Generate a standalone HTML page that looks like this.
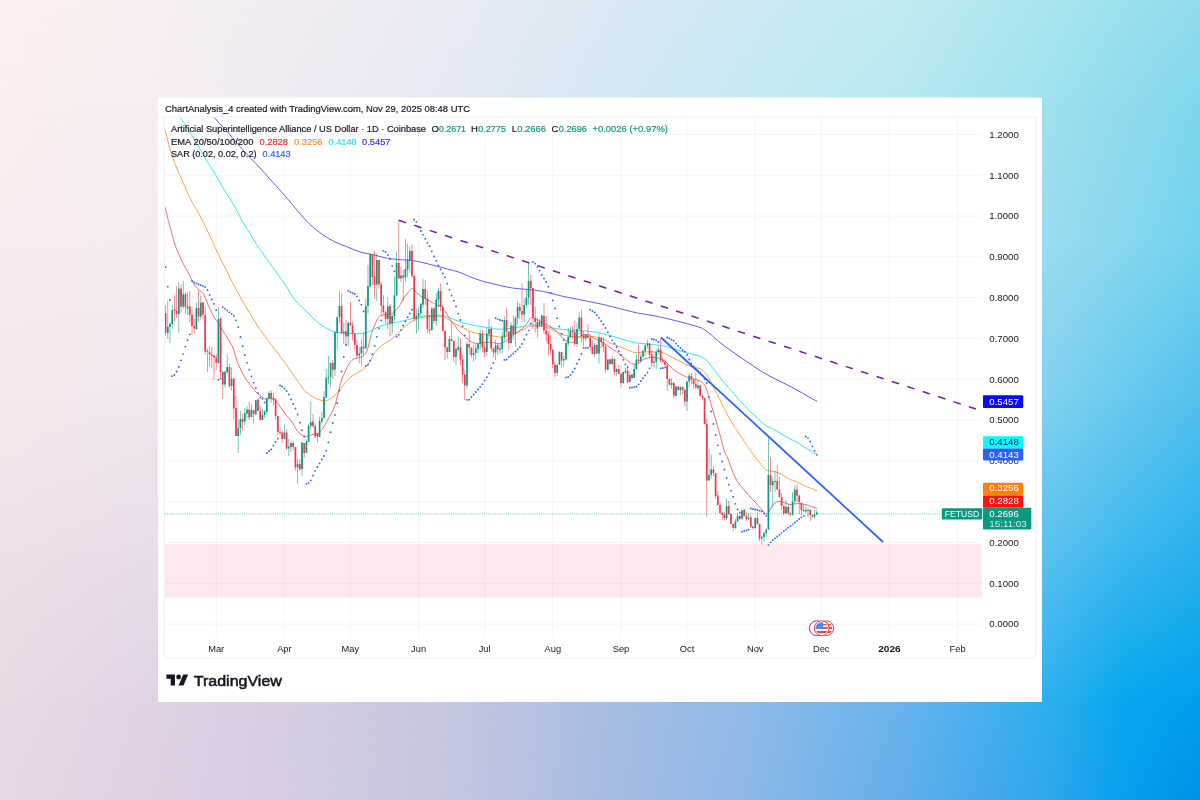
<!DOCTYPE html>
<html><head><meta charset="utf-8"><title>chart</title>
<style>
html,body{margin:0;padding:0;width:1200px;height:800px;overflow:hidden;background:#e9e3ee;}
svg{position:absolute;left:0;top:0;display:block}
text{font-family:"Liberation Sans",sans-serif;}
</style></head><body>
<svg width="1200" height="800" viewBox="0 0 1200 800">
<defs>
<linearGradient id="h0" x1="0" y1="0" x2="1200" y2="0" gradientUnits="userSpaceOnUse"><stop offset="0.0000" stop-color="#fdf1ef"/><stop offset="0.1250" stop-color="#f7f0f1"/><stop offset="0.2500" stop-color="#f1ecf2"/><stop offset="0.3750" stop-color="#e8eaf3"/><stop offset="0.5000" stop-color="#dbe9f3"/><stop offset="0.6250" stop-color="#cdeaf3"/><stop offset="0.7500" stop-color="#c0ebf2"/><stop offset="0.8750" stop-color="#a9e5ef"/><stop offset="0.9375" stop-color="#9ce1ee"/><stop offset="1.0000" stop-color="#90dded"/></linearGradient>
<linearGradient id="h100" x1="0" y1="0" x2="1200" y2="0" gradientUnits="userSpaceOnUse"><stop offset="0.0000" stop-color="#fbefee"/><stop offset="0.1250" stop-color="#f6eef1"/><stop offset="0.2500" stop-color="#eeeaf2"/><stop offset="0.3750" stop-color="#e4e8f3"/><stop offset="0.5000" stop-color="#d5e8f3"/><stop offset="0.6250" stop-color="#c6e9f3"/><stop offset="0.7500" stop-color="#b6e8f1"/><stop offset="0.8750" stop-color="#9fe1ee"/><stop offset="0.9375" stop-color="#8fdced"/><stop offset="1.0000" stop-color="#7fd7ec"/></linearGradient>
<linearGradient id="h250" x1="0" y1="0" x2="1200" y2="0" gradientUnits="userSpaceOnUse"><stop offset="0.0000" stop-color="#f8ebee"/><stop offset="0.1250" stop-color="#f4ebf0"/><stop offset="0.2500" stop-color="#e8e2ee"/><stop offset="0.3750" stop-color="#dce0ee"/><stop offset="0.5000" stop-color="#cadeef"/><stop offset="0.6250" stop-color="#b8def0"/><stop offset="0.7500" stop-color="#a2dbf0"/><stop offset="0.8750" stop-color="#97dbef"/><stop offset="0.9375" stop-color="#85d7ee"/><stop offset="1.0000" stop-color="#73d2ee"/></linearGradient>
<linearGradient id="h400" x1="0" y1="0" x2="1200" y2="0" gradientUnits="userSpaceOnUse"><stop offset="0.0000" stop-color="#f4e7ec"/><stop offset="0.1250" stop-color="#f0e6ee"/><stop offset="0.2500" stop-color="#e2dbea"/><stop offset="0.3750" stop-color="#d4d8ea"/><stop offset="0.5000" stop-color="#bfd3eb"/><stop offset="0.6250" stop-color="#aad2ee"/><stop offset="0.7500" stop-color="#8fcef0"/><stop offset="0.8750" stop-color="#7fd1ef"/><stop offset="0.9375" stop-color="#68c9ee"/><stop offset="1.0000" stop-color="#51c0ee"/></linearGradient>
<linearGradient id="h550" x1="0" y1="0" x2="1200" y2="0" gradientUnits="userSpaceOnUse"><stop offset="0.0000" stop-color="#eee0e8"/><stop offset="0.1250" stop-color="#e9ddea"/><stop offset="0.2500" stop-color="#dbd4e6"/><stop offset="0.3750" stop-color="#cdcfe6"/><stop offset="0.5000" stop-color="#b4c8e7"/><stop offset="0.6250" stop-color="#9dc6eb"/><stop offset="0.7500" stop-color="#7cc1ef"/><stop offset="0.8750" stop-color="#59c1ee"/><stop offset="0.9375" stop-color="#3db8ee"/><stop offset="1.0000" stop-color="#28b1ed"/></linearGradient>
<linearGradient id="h700" x1="0" y1="0" x2="1200" y2="0" gradientUnits="userSpaceOnUse"><stop offset="0.0000" stop-color="#e9dae5"/><stop offset="0.1250" stop-color="#e0d3e5"/><stop offset="0.2500" stop-color="#d5cce2"/><stop offset="0.3750" stop-color="#c5c7e1"/><stop offset="0.5000" stop-color="#a9bee3"/><stop offset="0.6250" stop-color="#8fbbe8"/><stop offset="0.7500" stop-color="#68b4ee"/><stop offset="0.8750" stop-color="#2cafef"/><stop offset="0.9375" stop-color="#06a7ee"/><stop offset="1.0000" stop-color="#00a0ec"/></linearGradient>
<linearGradient id="h800" x1="0" y1="0" x2="1200" y2="0" gradientUnits="userSpaceOnUse"><stop offset="0.0000" stop-color="#e7d7e4"/><stop offset="0.1250" stop-color="#dfd0e3"/><stop offset="0.2500" stop-color="#d4cbe2"/><stop offset="0.3750" stop-color="#c4c6e1"/><stop offset="0.5000" stop-color="#a8bce2"/><stop offset="0.6250" stop-color="#8cb8e7"/><stop offset="0.7500" stop-color="#62aeea"/><stop offset="0.8750" stop-color="#2ea6ec"/><stop offset="0.9375" stop-color="#079fec"/><stop offset="1.0000" stop-color="#0091e9"/></linearGradient>
<linearGradient id="v0" x1="0" y1="0" x2="0" y2="100" gradientUnits="userSpaceOnUse"><stop offset="0" stop-color="#fff" stop-opacity="0"/><stop offset="1" stop-color="#fff" stop-opacity="1"/></linearGradient>
<mask id="m0" maskUnits="userSpaceOnUse" x="0" y="0" width="1200" height="100"><rect x="0" y="0" width="1200" height="100" fill="url(#v0)"/></mask>
<linearGradient id="v100" x1="0" y1="100" x2="0" y2="250" gradientUnits="userSpaceOnUse"><stop offset="0" stop-color="#fff" stop-opacity="0"/><stop offset="1" stop-color="#fff" stop-opacity="1"/></linearGradient>
<mask id="m100" maskUnits="userSpaceOnUse" x="0" y="100" width="1200" height="150"><rect x="0" y="100" width="1200" height="150" fill="url(#v100)"/></mask>
<linearGradient id="v250" x1="0" y1="250" x2="0" y2="400" gradientUnits="userSpaceOnUse"><stop offset="0" stop-color="#fff" stop-opacity="0"/><stop offset="1" stop-color="#fff" stop-opacity="1"/></linearGradient>
<mask id="m250" maskUnits="userSpaceOnUse" x="0" y="250" width="1200" height="150"><rect x="0" y="250" width="1200" height="150" fill="url(#v250)"/></mask>
<linearGradient id="v400" x1="0" y1="400" x2="0" y2="550" gradientUnits="userSpaceOnUse"><stop offset="0" stop-color="#fff" stop-opacity="0"/><stop offset="1" stop-color="#fff" stop-opacity="1"/></linearGradient>
<mask id="m400" maskUnits="userSpaceOnUse" x="0" y="400" width="1200" height="150"><rect x="0" y="400" width="1200" height="150" fill="url(#v400)"/></mask>
<linearGradient id="v550" x1="0" y1="550" x2="0" y2="700" gradientUnits="userSpaceOnUse"><stop offset="0" stop-color="#fff" stop-opacity="0"/><stop offset="1" stop-color="#fff" stop-opacity="1"/></linearGradient>
<mask id="m550" maskUnits="userSpaceOnUse" x="0" y="550" width="1200" height="150"><rect x="0" y="550" width="1200" height="150" fill="url(#v550)"/></mask>
<linearGradient id="v700" x1="0" y1="700" x2="0" y2="800" gradientUnits="userSpaceOnUse"><stop offset="0" stop-color="#fff" stop-opacity="0"/><stop offset="1" stop-color="#fff" stop-opacity="1"/></linearGradient>
<mask id="m700" maskUnits="userSpaceOnUse" x="0" y="700" width="1200" height="100"><rect x="0" y="700" width="1200" height="100" fill="url(#v700)"/></mask>
<clipPath id="plot"><rect x="165" y="117.5" width="817" height="520"/></clipPath>
<clipPath id="flag"><circle cx="0" cy="0" r="6.0"/></clipPath>
</defs>
<rect x="0" y="0" width="1200" height="100.5" fill="url(#h0)"/>
<rect x="0" y="0" width="1200" height="100" fill="url(#h100)" mask="url(#m0)"/>
<rect x="0" y="100" width="1200" height="150.5" fill="url(#h100)"/>
<rect x="0" y="100" width="1200" height="150" fill="url(#h250)" mask="url(#m100)"/>
<rect x="0" y="250" width="1200" height="150.5" fill="url(#h250)"/>
<rect x="0" y="250" width="1200" height="150" fill="url(#h400)" mask="url(#m250)"/>
<rect x="0" y="400" width="1200" height="150.5" fill="url(#h400)"/>
<rect x="0" y="400" width="1200" height="150" fill="url(#h550)" mask="url(#m400)"/>
<rect x="0" y="550" width="1200" height="150.5" fill="url(#h550)"/>
<rect x="0" y="550" width="1200" height="150" fill="url(#h700)" mask="url(#m550)"/>
<rect x="0" y="700" width="1200" height="100.5" fill="url(#h700)"/>
<rect x="0" y="700" width="1200" height="100" fill="url(#h800)" mask="url(#m700)"/>
<rect x="158" y="97.5" width="884" height="604.5" fill="#ffffff"/>

<rect x="164.5" y="117" width="871" height="541.2" fill="none" stroke="#f0f0f2" stroke-width="1"/>
<path d="M165,624.00H982 M165,583.20H982 M165,542.40H982 M165,501.60H982 M165,460.80H982 M165,420.00H982 M165,379.20H982 M165,338.40H982 M165,297.60H982 M165,256.80H982 M165,216.00H982 M165,175.20H982 M165,134.40H982 M216.20,117.5V637.3 M284.40,117.5V637.3 M350.40,117.5V637.3 M418.60,117.5V637.3 M484.60,117.5V637.3 M552.80,117.5V637.3 M621.00,117.5V637.3 M687.00,117.5V637.3 M755.20,117.5V637.3 M821.20,117.5V637.3 M889.40,117.5V637.3 M957.60,117.5V637.3" stroke="#f4f4f6" stroke-width="1" fill="none"/>
<rect x="165" y="544" width="817" height="53.5" fill="#e91e63" fill-opacity="0.10"/>
<g clip-path="url(#plot)">
<path d="M213.75,117.00 C216.04,119.50 222.71,126.58 227.50,132.00 C232.29,137.42 237.08,143.50 242.50,149.50 C247.92,155.50 255.00,162.58 260.00,168.00 C265.00,173.42 268.33,177.38 272.50,182.00 C276.67,186.62 280.83,190.96 285.00,195.75 C289.17,200.54 293.33,205.96 297.50,210.75 C301.67,215.54 305.83,220.54 310.00,224.50 C314.17,228.46 318.33,231.58 322.50,234.50 C326.67,237.42 330.83,239.92 335.00,242.00 C339.17,244.08 343.33,245.33 347.50,247.00 C351.67,248.67 355.83,250.75 360.00,252.00 C364.17,253.25 368.33,253.54 372.50,254.50 C376.67,255.46 380.83,256.92 385.00,257.75 C389.17,258.58 393.33,259.08 397.50,259.50 C401.67,259.92 405.83,259.75 410.00,260.25 C414.17,260.75 418.33,261.58 422.50,262.50 C426.67,263.42 430.83,264.67 435.00,265.75 C439.17,266.83 443.33,267.88 447.50,269.00 C451.67,270.12 455.42,270.88 460.00,272.50 C464.58,274.12 470.42,277.08 475.00,278.75 C479.58,280.42 483.33,281.38 487.50,282.50 C491.67,283.62 495.83,284.58 500.00,285.50 C504.17,286.42 508.33,287.38 512.50,288.00 C516.67,288.62 520.83,288.83 525.00,289.25 C529.17,289.67 533.33,289.88 537.50,290.50 C541.67,291.12 545.83,292.04 550.00,293.00 C554.17,293.96 558.33,295.29 562.50,296.25 C566.67,297.21 570.83,297.92 575.00,298.75 C579.17,299.58 583.33,300.42 587.50,301.25 C591.67,302.08 595.83,302.83 600.00,303.75 C604.17,304.67 608.33,305.71 612.50,306.75 C616.67,307.79 620.83,308.96 625.00,310.00 C629.17,311.04 633.33,312.17 637.50,313.00 C641.67,313.83 645.83,314.25 650.00,315.00 C654.17,315.75 658.33,316.58 662.50,317.50 C666.67,318.42 670.83,319.46 675.00,320.50 C679.17,321.54 683.33,322.58 687.50,323.75 C691.67,324.92 697.25,326.54 700.00,327.50 C702.75,328.46 702.33,328.46 704.00,329.50 C705.67,330.54 707.33,331.58 710.00,333.75 C712.67,335.92 716.67,339.79 720.00,342.50 C723.33,345.21 726.67,347.58 730.00,350.00 C733.33,352.42 736.67,354.71 740.00,357.00 C743.33,359.29 746.67,361.50 750.00,363.75 C753.33,366.00 756.67,368.42 760.00,370.50 C763.33,372.58 766.67,374.46 770.00,376.25 C773.33,378.04 776.67,379.58 780.00,381.25 C783.33,382.92 786.67,384.50 790.00,386.25 C793.33,388.00 796.67,389.88 800.00,391.75 C803.33,393.62 807.17,395.92 810.00,397.50 C812.83,399.08 815.83,400.62 817.00,401.25" fill="none" stroke="#5b51f5" stroke-width="0.95"/>
<path d="M180.00,117.00 C180.83,118.25 183.12,121.58 185.00,124.50 C186.88,127.42 189.17,131.17 191.25,134.50 C193.33,137.83 195.42,140.96 197.50,144.50 C199.58,148.04 201.67,152.21 203.75,155.75 C205.83,159.29 207.92,162.42 210.00,165.75 C212.08,169.08 214.17,172.21 216.25,175.75 C218.33,179.29 220.42,183.46 222.50,187.00 C224.58,190.54 226.67,193.67 228.75,197.00 C230.83,200.33 233.12,203.67 235.00,207.00 C236.88,210.33 237.92,213.25 240.00,217.00 C242.08,220.75 244.17,224.08 247.50,229.50 C250.83,234.92 255.83,243.25 260.00,249.50 C264.17,255.75 268.33,261.17 272.50,267.00 C276.67,272.83 281.25,279.00 285.00,284.50 C288.75,290.00 291.67,295.75 295.00,300.00 C298.33,304.25 301.67,306.67 305.00,310.00 C308.33,313.33 311.67,317.08 315.00,320.00 C318.33,322.92 321.67,325.50 325.00,327.50 C328.33,329.50 331.25,331.04 335.00,332.00 C338.75,332.96 343.33,332.96 347.50,333.25 C351.67,333.54 356.25,334.08 360.00,333.75 C363.75,333.42 366.67,332.50 370.00,331.25 C373.33,330.00 376.25,327.62 380.00,326.25 C383.75,324.88 388.33,323.96 392.50,323.00 C396.67,322.04 400.83,321.50 405.00,320.50 C409.17,319.50 413.33,317.83 417.50,317.00 C421.67,316.17 425.83,315.75 430.00,315.50 C434.17,315.25 439.17,315.08 442.50,315.50 C445.83,315.92 446.67,316.83 450.00,318.00 C453.33,319.17 458.33,321.25 462.50,322.50 C466.67,323.75 470.83,324.67 475.00,325.50 C479.17,326.33 483.33,326.88 487.50,327.50 C491.67,328.12 495.83,329.17 500.00,329.25 C504.17,329.33 508.33,328.50 512.50,328.00 C516.67,327.50 522.08,326.75 525.00,326.25 C527.92,325.75 527.50,325.12 530.00,325.00 C532.50,324.88 536.67,325.08 540.00,325.50 C543.33,325.92 546.25,326.83 550.00,327.50 C553.75,328.17 558.33,329.00 562.50,329.50 C566.67,330.00 570.83,330.21 575.00,330.50 C579.17,330.79 583.33,330.83 587.50,331.25 C591.67,331.67 595.83,332.17 600.00,333.00 C604.17,333.83 608.33,335.08 612.50,336.25 C616.67,337.42 620.83,338.88 625.00,340.00 C629.17,341.12 633.33,342.29 637.50,343.00 C641.67,343.71 645.42,343.71 650.00,344.25 C654.58,344.79 660.42,345.29 665.00,346.25 C669.58,347.21 673.33,348.75 677.50,350.00 C681.67,351.25 686.25,352.71 690.00,353.75 C693.75,354.79 697.08,355.00 700.00,356.25 C702.92,357.50 705.00,358.75 707.50,361.25 C710.00,363.75 712.08,367.50 715.00,371.25 C717.92,375.00 721.67,379.79 725.00,383.75 C728.33,387.71 731.67,391.25 735.00,395.00 C738.33,398.75 741.67,402.79 745.00,406.25 C748.33,409.71 751.67,412.62 755.00,415.75 C758.33,418.88 761.67,422.62 765.00,425.00 C768.33,427.38 771.67,428.12 775.00,430.00 C778.33,431.88 781.67,434.38 785.00,436.25 C788.33,438.12 791.67,439.38 795.00,441.25 C798.33,443.12 801.33,445.29 805.00,447.50 C808.67,449.71 815.00,453.33 817.00,454.50" fill="none" stroke="#2aeaf8" stroke-width="1.0"/>
<path d="M165.00,129.50 C165.62,132.00 167.50,139.92 168.75,144.50 C170.00,149.08 171.25,153.25 172.50,157.00 C173.75,160.75 175.00,163.88 176.25,167.00 C177.50,170.12 178.54,172.42 180.00,175.75 C181.46,179.08 183.33,183.25 185.00,187.00 C186.67,190.75 188.33,194.92 190.00,198.25 C191.67,201.58 193.33,204.08 195.00,207.00 C196.67,209.92 197.83,211.58 200.00,215.75 C202.17,219.92 205.08,225.88 208.00,232.00 C210.92,238.12 214.67,246.58 217.50,252.50 C220.33,258.42 222.50,262.50 225.00,267.50 C227.50,272.50 230.00,277.67 232.50,282.50 C235.00,287.33 237.08,291.33 240.00,296.50 C242.92,301.67 246.67,308.00 250.00,313.50 C253.33,319.00 256.67,324.58 260.00,329.50 C263.33,334.42 266.67,338.54 270.00,343.00 C273.33,347.46 276.67,351.75 280.00,356.25 C283.33,360.75 286.67,365.29 290.00,370.00 C293.33,374.71 297.33,380.83 300.00,384.50 C302.67,388.17 303.83,389.92 306.00,392.00 C308.17,394.08 310.67,395.67 313.00,397.00 C315.33,398.33 317.58,399.45 320.00,400.00 C322.42,400.55 325.00,401.13 327.50,400.30 C330.00,399.47 332.50,397.34 335.00,395.00 C337.50,392.66 340.00,389.17 342.50,386.25 C345.00,383.33 347.08,380.00 350.00,377.50 C352.92,375.00 357.08,373.33 360.00,371.25 C362.92,369.17 365.00,368.12 367.50,365.00 C370.00,361.88 372.50,355.83 375.00,352.50 C377.50,349.17 379.58,347.29 382.50,345.00 C385.42,342.71 389.58,341.04 392.50,338.75 C395.42,336.46 397.50,333.62 400.00,331.25 C402.50,328.88 405.00,326.46 407.50,324.50 C410.00,322.54 412.08,320.75 415.00,319.50 C417.92,318.25 421.25,317.54 425.00,317.00 C428.75,316.46 434.17,316.17 437.50,316.25 C440.83,316.33 442.08,316.25 445.00,317.50 C447.92,318.75 451.67,321.88 455.00,323.75 C458.33,325.62 461.67,327.21 465.00,328.75 C468.33,330.29 471.25,331.96 475.00,333.00 C478.75,334.04 483.33,334.33 487.50,335.00 C491.67,335.67 496.67,336.79 500.00,337.00 C503.33,337.21 504.58,337.00 507.50,336.25 C510.42,335.50 514.58,333.75 517.50,332.50 C520.42,331.25 522.92,329.79 525.00,328.75 C527.08,327.71 527.50,326.67 530.00,326.25 C532.50,325.83 536.67,325.83 540.00,326.25 C543.33,326.67 546.25,327.38 550.00,328.75 C553.75,330.12 558.33,333.12 562.50,334.50 C566.67,335.88 570.83,336.71 575.00,337.00 C579.17,337.29 583.33,336.08 587.50,336.25 C591.67,336.42 595.83,336.75 600.00,338.00 C604.17,339.25 608.33,341.96 612.50,343.75 C616.67,345.54 621.25,347.29 625.00,348.75 C628.75,350.21 631.67,352.00 635.00,352.50 C638.33,353.00 641.67,351.83 645.00,351.75 C648.33,351.67 652.50,352.04 655.00,352.00 C657.50,351.96 657.50,350.79 660.00,351.50 C662.50,352.21 666.67,354.62 670.00,356.25 C673.33,357.88 676.67,359.58 680.00,361.25 C683.33,362.92 686.67,365.00 690.00,366.25 C693.33,367.50 697.50,367.71 700.00,368.75 C702.50,369.79 703.33,370.62 705.00,372.50 C706.67,374.38 708.33,377.08 710.00,380.00 C711.67,382.92 713.33,386.67 715.00,390.00 C716.67,393.33 717.92,395.83 720.00,400.00 C722.08,404.17 725.00,410.42 727.50,415.00 C730.00,419.58 732.50,423.54 735.00,427.50 C737.50,431.46 740.00,435.00 742.50,438.75 C745.00,442.50 747.92,446.96 750.00,450.00 C752.08,453.04 753.33,454.83 755.00,457.00 C756.67,459.17 758.33,461.00 760.00,463.00 C761.67,465.00 763.50,467.67 765.00,469.00 C766.50,470.33 767.50,470.58 769.00,471.00 C770.50,471.42 772.17,471.08 774.00,471.50 C775.83,471.92 778.17,472.67 780.00,473.50 C781.83,474.33 783.33,475.50 785.00,476.50 C786.67,477.50 788.33,478.75 790.00,479.50 C791.67,480.25 793.33,480.33 795.00,481.00 C796.67,481.67 798.33,482.67 800.00,483.50 C801.67,484.33 803.33,485.25 805.00,486.00 C806.67,486.75 808.00,487.17 810.00,488.00 C812.00,488.83 815.83,490.50 817.00,491.00" fill="none" stroke="#ff9a3c" stroke-width="0.95"/>
<path d="M165.00,207.00 C165.83,210.33 168.33,220.75 170.00,227.00 C171.67,233.25 173.33,239.50 175.00,244.50 C176.67,249.50 178.33,253.25 180.00,257.00 C181.67,260.75 183.85,264.83 185.00,267.00 C186.15,269.17 185.86,268.04 186.90,270.00 C187.94,271.96 189.69,275.83 191.25,278.75 C192.81,281.67 194.38,285.21 196.25,287.50 C198.12,289.79 201.01,290.82 202.50,292.50 C203.99,294.18 204.18,295.35 205.20,297.60 C206.22,299.85 207.48,303.48 208.60,306.00 C209.72,308.52 210.78,310.47 211.90,312.70 C213.02,314.93 214.32,317.87 215.30,319.40 C216.28,320.93 216.97,320.65 217.80,321.90 C218.63,323.15 219.32,325.22 220.30,326.90 C221.28,328.58 222.50,330.15 223.70,332.00 C224.90,333.85 226.03,335.58 227.50,338.00 C228.97,340.42 231.25,343.83 232.50,346.50 C233.75,349.17 234.25,351.58 235.00,354.00 C235.75,356.42 236.17,358.67 237.00,361.00 C237.83,363.33 238.83,365.50 240.00,368.00 C241.17,370.50 242.67,373.67 244.00,376.00 C245.33,378.33 246.67,380.17 248.00,382.00 C249.33,383.83 250.67,385.33 252.00,387.00 C253.33,388.67 254.50,390.50 256.00,392.00 C257.50,393.50 259.50,394.83 261.00,396.00 C262.50,397.17 263.50,398.58 265.00,399.00 C266.50,399.42 268.33,398.33 270.00,398.50 C271.67,398.67 273.50,398.92 275.00,400.00 C276.50,401.08 277.67,403.17 279.00,405.00 C280.33,406.83 281.67,409.17 283.00,411.00 C284.33,412.83 285.50,414.17 287.00,416.00 C288.50,417.83 290.50,419.83 292.00,422.00 C293.50,424.17 294.67,427.00 296.00,429.00 C297.33,431.00 298.67,432.83 300.00,434.00 C301.33,435.17 302.83,435.50 304.00,436.00 C305.17,436.50 305.83,437.17 307.00,437.00 C308.17,436.83 309.67,435.50 311.00,435.00 C312.33,434.50 313.67,434.33 315.00,434.00 C316.33,433.67 317.67,434.00 319.00,433.00 C320.33,432.00 321.67,430.00 323.00,428.00 C324.33,426.00 325.67,423.33 327.00,421.00 C328.33,418.67 329.83,416.17 331.00,414.00 C332.17,411.83 333.00,410.67 334.00,408.00 C335.00,405.33 336.17,401.00 337.00,398.00 C337.83,395.00 338.25,393.00 339.00,390.00 C339.75,387.00 340.50,383.00 341.50,380.00 C342.50,377.00 343.75,374.67 345.00,372.00 C346.25,369.33 347.67,366.08 349.00,364.00 C350.33,361.92 351.67,360.50 353.00,359.50 C354.33,358.50 355.67,358.42 357.00,358.00 C358.33,357.58 359.83,357.42 361.00,357.00 C362.17,356.58 363.00,356.50 364.00,355.50 C365.00,354.50 366.17,352.92 367.00,351.00 C367.83,349.08 368.33,346.67 369.00,344.00 C369.67,341.33 370.17,337.83 371.00,335.00 C371.83,332.17 373.00,329.50 374.00,327.00 C375.00,324.50 376.00,321.83 377.00,320.00 C378.00,318.17 378.83,316.83 380.00,316.00 C381.17,315.17 382.67,315.25 384.00,315.00 C385.33,314.75 386.67,314.67 388.00,314.50 C389.33,314.33 390.67,314.75 392.00,314.00 C393.33,313.25 394.67,311.50 396.00,310.00 C397.33,308.50 398.83,306.83 400.00,305.00 C401.17,303.17 401.83,300.83 403.00,299.00 C404.17,297.17 405.83,295.50 407.00,294.00 C408.17,292.50 409.08,290.92 410.00,290.00 C410.92,289.08 411.67,288.33 412.50,288.50 C413.33,288.67 414.08,290.08 415.00,291.00 C415.92,291.92 416.83,293.00 418.00,294.00 C419.17,295.00 420.33,296.00 422.00,297.00 C423.67,298.00 426.00,298.92 428.00,300.00 C430.00,301.08 432.33,302.58 434.00,303.50 C435.67,304.42 436.67,305.00 438.00,305.50 C439.33,306.00 440.83,305.58 442.00,306.50 C443.17,307.42 444.00,309.42 445.00,311.00 C446.00,312.58 447.00,314.33 448.00,316.00 C449.00,317.67 449.83,319.33 451.00,321.00 C452.17,322.67 453.50,324.17 455.00,326.00 C456.50,327.83 458.33,330.25 460.00,332.00 C461.67,333.75 463.33,334.96 465.00,336.50 C466.67,338.04 467.92,340.04 470.00,341.25 C472.08,342.46 475.00,343.54 477.50,343.75 C480.00,343.96 482.50,342.71 485.00,342.50 C487.50,342.29 490.00,342.29 492.50,342.50 C495.00,342.71 497.50,344.17 500.00,343.75 C502.50,343.33 505.00,341.67 507.50,340.00 C510.00,338.33 512.50,335.62 515.00,333.75 C517.50,331.88 520.42,330.62 522.50,328.75 C524.58,326.88 526.04,324.38 527.50,322.50 C528.96,320.62 529.79,318.00 531.25,317.50 C532.71,317.00 534.38,318.67 536.25,319.50 C538.12,320.33 540.21,321.38 542.50,322.50 C544.79,323.62 547.50,324.58 550.00,326.25 C552.50,327.92 555.00,330.21 557.50,332.50 C560.00,334.79 562.50,338.33 565.00,340.00 C567.50,341.67 570.00,343.12 572.50,342.50 C575.00,341.88 577.50,337.58 580.00,336.25 C582.50,334.92 585.00,334.08 587.50,334.50 C590.00,334.92 592.50,337.42 595.00,338.75 C597.50,340.08 600.00,341.04 602.50,342.50 C605.00,343.96 607.50,345.83 610.00,347.50 C612.50,349.17 615.00,350.62 617.50,352.50 C620.00,354.38 622.50,356.88 625.00,358.75 C627.50,360.62 630.42,362.92 632.50,363.75 C634.58,364.58 635.83,364.38 637.50,363.75 C639.17,363.12 640.42,361.04 642.50,360.00 C644.58,358.96 647.50,357.83 650.00,357.50 C652.50,357.17 655.00,357.38 657.50,358.00 C660.00,358.62 662.50,359.46 665.00,361.25 C667.50,363.04 670.00,366.67 672.50,368.75 C675.00,370.83 677.50,372.29 680.00,373.75 C682.50,375.21 685.42,376.67 687.50,377.50 C689.58,378.33 690.83,378.33 692.50,378.75 C694.17,379.17 695.62,379.17 697.50,380.00 C699.38,380.83 702.08,381.67 703.75,383.75 C705.42,385.83 706.25,388.96 707.50,392.50 C708.75,396.04 710.00,400.83 711.25,405.00 C712.50,409.17 713.54,412.50 715.00,417.50 C716.46,422.50 718.50,429.58 720.00,435.00 C721.50,440.42 722.67,446.00 724.00,450.00 C725.33,454.00 726.67,455.67 728.00,459.00 C729.33,462.33 730.67,466.67 732.00,470.00 C733.33,473.33 734.67,476.50 736.00,479.00 C737.33,481.50 738.50,483.00 740.00,485.00 C741.50,487.00 743.33,489.00 745.00,491.00 C746.67,493.00 748.33,495.17 750.00,497.00 C751.67,498.83 753.33,500.25 755.00,502.00 C756.67,503.75 758.50,505.83 760.00,507.50 C761.50,509.17 762.83,510.92 764.00,512.00 C765.17,513.08 766.00,514.33 767.00,514.00 C768.00,513.67 769.17,511.33 770.00,510.00 C770.83,508.67 771.17,507.17 772.00,506.00 C772.83,504.83 774.00,503.75 775.00,503.00 C776.00,502.25 777.00,501.75 778.00,501.50 C779.00,501.25 779.83,501.25 781.00,501.50 C782.17,501.75 783.50,502.50 785.00,503.00 C786.50,503.50 788.33,504.33 790.00,504.50 C791.67,504.67 793.33,504.17 795.00,504.00 C796.67,503.83 798.33,503.42 800.00,503.50 C801.67,503.58 803.33,504.08 805.00,504.50 C806.67,504.92 808.00,505.33 810.00,506.00 C812.00,506.67 815.83,508.08 817.00,508.50" fill="none" stroke="#f5454f" stroke-width="0.8"/>
<path d="M167.42,300.54h0.75V338.65h-0.75ZM169.62,321.90h0.75V343.01h-0.75ZM171.82,305.57h0.75V329.02h-0.75ZM178.42,282.12h0.75V332.79h-0.75ZM182.82,280.86h0.75V308.92h-0.75ZM187.22,292.59h0.75V315.20h-0.75ZM196.03,302.22h0.75V329.86h-0.75ZM200.43,295.52h0.75V319.81h-0.75ZM218.03,307.24h0.75V363.50h-0.75ZM224.62,371.50h0.75V387.50h-0.75ZM226.82,354.50h0.75V374.00h-0.75ZM231.22,367.50h0.75V390.50h-0.75ZM237.82,420.00h0.75V453.00h-0.75ZM240.03,411.00h0.75V435.00h-0.75ZM244.43,408.00h0.75V425.50h-0.75ZM246.62,406.00h0.75V418.00h-0.75ZM251.03,404.00h0.75V417.00h-0.75ZM255.43,400.00h0.75V415.00h-0.75ZM262.02,409.00h0.75V420.00h-0.75ZM264.23,410.00h0.75V418.00h-0.75ZM266.43,397.00h0.75V414.50h-0.75ZM268.62,391.00h0.75V401.50h-0.75ZM284.02,424.50h0.75V439.00h-0.75ZM288.43,439.00h0.75V456.00h-0.75ZM290.62,441.00h0.75V452.00h-0.75ZM297.23,458.50h0.75V483.50h-0.75ZM301.62,442.00h0.75V476.00h-0.75ZM306.02,439.00h0.75V453.00h-0.75ZM308.23,423.50h0.75V442.00h-0.75ZM310.43,402.00h0.75V429.50h-0.75ZM319.23,417.00h0.75V437.00h-0.75ZM321.43,411.50h0.75V423.50h-0.75ZM323.62,391.00h0.75V418.00h-0.75ZM325.83,369.00h0.75V398.00h-0.75ZM328.02,356.00h0.75V384.50h-0.75ZM330.23,362.50h0.75V387.50h-0.75ZM334.62,330.50h0.75V376.00h-0.75ZM336.83,317.00h0.75V349.50h-0.75ZM339.02,291.00h0.75V323.00h-0.75ZM343.43,322.50h0.75V344.00h-0.75ZM347.83,321.00h0.75V346.50h-0.75ZM358.83,347.00h0.75V363.50h-0.75ZM361.02,339.00h0.75V365.50h-0.75ZM365.43,298.50h0.75V348.50h-0.75ZM367.62,265.00h0.75V313.50h-0.75ZM369.83,254.00h0.75V287.50h-0.75ZM376.43,253.50h0.75V301.00h-0.75ZM387.43,297.50h0.75V329.50h-0.75ZM391.83,315.00h0.75V333.50h-0.75ZM394.02,276.50h0.75V321.00h-0.75ZM396.23,252.00h0.75V295.50h-0.75ZM400.62,266.50h0.75V282.00h-0.75ZM405.02,238.50h0.75V282.00h-0.75ZM407.23,243.50h0.75V277.50h-0.75ZM409.43,246.50h0.75V273.00h-0.75ZM416.02,308.50h0.75V333.50h-0.75ZM418.23,307.50h0.75V329.50h-0.75ZM420.43,303.00h0.75V315.50h-0.75ZM422.62,278.50h0.75V308.00h-0.75ZM431.43,307.00h0.75V330.50h-0.75ZM435.83,293.00h0.75V325.50h-0.75ZM438.02,288.00h0.75V307.00h-0.75ZM449.02,336.00h0.75V352.00h-0.75ZM455.62,347.50h0.75V365.00h-0.75ZM457.83,336.50h0.75V351.00h-0.75ZM466.62,341.50h0.75V388.50h-0.75ZM473.23,345.00h0.75V361.50h-0.75ZM475.43,343.50h0.75V359.50h-0.75ZM477.62,342.50h0.75V353.50h-0.75ZM479.83,329.50h0.75V349.50h-0.75ZM486.43,328.00h0.75V356.50h-0.75ZM488.62,319.00h0.75V338.50h-0.75ZM495.23,340.00h0.75V360.00h-0.75ZM499.62,344.50h0.75V353.50h-0.75ZM501.83,332.50h0.75V353.50h-0.75ZM504.02,316.50h0.75V341.00h-0.75ZM510.62,322.00h0.75V344.00h-0.75ZM515.02,316.50h0.75V346.50h-0.75ZM517.23,301.50h0.75V325.00h-0.75ZM523.83,298.50h0.75V322.50h-0.75ZM526.02,290.00h0.75V307.50h-0.75ZM528.23,262.50h0.75V305.00h-0.75ZM537.02,317.50h0.75V337.50h-0.75ZM541.43,314.50h0.75V326.50h-0.75ZM556.83,363.50h0.75V376.00h-0.75ZM559.02,351.00h0.75V365.00h-0.75ZM563.43,356.00h0.75V366.50h-0.75ZM565.62,342.50h0.75V359.50h-0.75ZM567.83,328.00h0.75V346.00h-0.75ZM570.02,327.00h0.75V337.50h-0.75ZM576.62,322.50h0.75V347.00h-0.75ZM578.83,312.00h0.75V331.00h-0.75ZM585.43,334.00h0.75V341.00h-0.75ZM594.23,343.00h0.75V357.00h-0.75ZM598.62,333.50h0.75V363.50h-0.75ZM607.43,359.00h0.75V370.50h-0.75ZM611.83,355.50h0.75V364.50h-0.75ZM616.23,368.00h0.75V375.50h-0.75ZM622.83,371.50h0.75V384.00h-0.75ZM625.02,368.00h0.75V374.00h-0.75ZM629.43,371.00h0.75V382.00h-0.75ZM633.83,364.00h0.75V378.00h-0.75ZM636.02,354.50h0.75V369.50h-0.75ZM640.43,353.50h0.75V363.50h-0.75ZM642.62,349.00h0.75V358.00h-0.75ZM644.83,344.50h0.75V355.50h-0.75ZM647.02,339.50h0.75V348.50h-0.75ZM653.62,355.50h0.75V368.00h-0.75ZM655.83,349.00h0.75V368.50h-0.75ZM658.03,346.50h0.75V353.50h-0.75ZM671.23,378.00h0.75V388.50h-0.75ZM675.62,386.00h0.75V396.50h-0.75ZM680.03,386.50h0.75V395.00h-0.75ZM686.63,381.50h0.75V411.00h-0.75ZM688.83,373.00h0.75V387.00h-0.75ZM697.63,380.00h0.75V390.00h-0.75ZM708.63,448.50h0.75V480.50h-0.75ZM710.83,454.50h0.75V478.50h-0.75ZM726.23,498.50h0.75V520.00h-0.75ZM735.03,519.00h0.75V529.00h-0.75ZM737.23,513.00h0.75V522.00h-0.75ZM741.63,509.50h0.75V520.00h-0.75ZM748.23,512.50h0.75V520.00h-0.75ZM754.83,517.50h0.75V529.00h-0.75ZM761.43,535.50h0.75V544.50h-0.75ZM763.63,532.00h0.75V541.50h-0.75ZM765.83,528.50h0.75V537.00h-0.75ZM768.03,437.00h0.75V530.00h-0.75ZM772.43,476.50h0.75V507.50h-0.75ZM774.63,471.00h0.75V492.00h-0.75ZM785.63,500.50h0.75V514.00h-0.75ZM792.23,492.00h0.75V516.00h-0.75ZM794.43,486.00h0.75V504.00h-0.75ZM805.43,506.50h0.75V513.00h-0.75ZM807.63,507.50h0.75V517.00h-0.75ZM814.23,510.00h0.75V518.50h-0.75ZM816.43,510.00h0.75V515.00h-0.75Z" fill="#089981" fill-opacity="0.75"/>
<path d="M165.22,305.15h0.75V335.72h-0.75ZM174.03,294.68h0.75V321.48h-0.75ZM176.22,286.31h0.75V317.71h-0.75ZM180.62,284.21h0.75V312.69h-0.75ZM185.03,291.75h0.75V313.94h-0.75ZM189.43,291.33h0.75V322.74h-0.75ZM191.62,306.83h0.75V334.88h-0.75ZM193.82,318.97h0.75V333.63h-0.75ZM198.22,290.49h0.75V321.48h-0.75ZM202.62,302.22h0.75V319.39h-0.75ZM204.82,306.41h0.75V355.00h-0.75ZM207.03,348.50h0.75V372.00h-0.75ZM209.22,346.00h0.75V367.00h-0.75ZM211.43,347.00h0.75V368.00h-0.75ZM213.62,355.00h0.75V380.00h-0.75ZM215.82,354.00h0.75V370.00h-0.75ZM220.22,317.29h0.75V377.00h-0.75ZM222.43,371.50h0.75V399.00h-0.75ZM229.03,363.50h0.75V388.00h-0.75ZM233.43,378.00h0.75V419.50h-0.75ZM235.62,396.00h0.75V436.00h-0.75ZM242.22,414.00h0.75V430.50h-0.75ZM248.82,401.50h0.75V420.00h-0.75ZM253.22,410.00h0.75V423.50h-0.75ZM257.62,398.50h0.75V411.00h-0.75ZM259.82,406.00h0.75V420.50h-0.75ZM270.82,390.00h0.75V402.50h-0.75ZM273.02,393.00h0.75V405.50h-0.75ZM275.23,398.00h0.75V419.50h-0.75ZM277.43,415.50h0.75V435.00h-0.75ZM279.62,427.00h0.75V435.50h-0.75ZM281.82,430.50h0.75V443.00h-0.75ZM286.23,429.00h0.75V450.00h-0.75ZM292.82,441.00h0.75V450.50h-0.75ZM295.02,447.00h0.75V470.50h-0.75ZM299.43,459.00h0.75V470.50h-0.75ZM303.83,443.00h0.75V458.00h-0.75ZM312.62,414.00h0.75V427.50h-0.75ZM314.83,423.50h0.75V438.00h-0.75ZM317.02,433.00h0.75V442.50h-0.75ZM332.43,360.00h0.75V379.00h-0.75ZM341.23,293.50h0.75V333.50h-0.75ZM345.62,320.00h0.75V345.00h-0.75ZM350.02,302.00h0.75V326.00h-0.75ZM352.23,321.50h0.75V340.50h-0.75ZM354.43,333.50h0.75V349.00h-0.75ZM356.62,340.00h0.75V358.00h-0.75ZM363.23,332.50h0.75V356.00h-0.75ZM372.02,254.00h0.75V285.00h-0.75ZM374.23,251.00h0.75V299.00h-0.75ZM378.62,259.50h0.75V288.50h-0.75ZM380.83,281.50h0.75V316.00h-0.75ZM383.02,295.00h0.75V314.50h-0.75ZM385.23,311.00h0.75V323.50h-0.75ZM389.62,304.00h0.75V336.50h-0.75ZM398.43,220.00h0.75V279.00h-0.75ZM402.83,270.00h0.75V301.00h-0.75ZM411.62,244.00h0.75V278.00h-0.75ZM413.83,275.00h0.75V321.50h-0.75ZM424.83,280.00h0.75V305.00h-0.75ZM427.02,290.50h0.75V333.00h-0.75ZM429.23,315.00h0.75V334.00h-0.75ZM433.62,307.00h0.75V323.50h-0.75ZM440.23,283.50h0.75V311.00h-0.75ZM442.43,305.00h0.75V331.50h-0.75ZM444.62,330.50h0.75V360.00h-0.75ZM446.83,346.50h0.75V358.50h-0.75ZM451.23,322.50h0.75V341.00h-0.75ZM453.43,340.50h0.75V362.00h-0.75ZM460.02,338.00h0.75V365.50h-0.75ZM462.23,354.00h0.75V382.50h-0.75ZM464.43,370.50h0.75V400.00h-0.75ZM468.83,331.50h0.75V355.00h-0.75ZM471.02,347.50h0.75V357.50h-0.75ZM482.02,330.00h0.75V352.50h-0.75ZM484.23,343.50h0.75V357.00h-0.75ZM490.83,326.00h0.75V351.50h-0.75ZM493.02,347.50h0.75V357.50h-0.75ZM497.43,343.00h0.75V355.50h-0.75ZM506.23,308.50h0.75V336.00h-0.75ZM508.43,331.50h0.75V350.00h-0.75ZM512.83,315.50h0.75V340.00h-0.75ZM519.43,303.00h0.75V319.00h-0.75ZM521.62,283.00h0.75V322.00h-0.75ZM530.43,275.00h0.75V305.50h-0.75ZM532.62,288.00h0.75V329.00h-0.75ZM534.83,306.50h0.75V332.50h-0.75ZM539.23,319.00h0.75V326.50h-0.75ZM543.62,303.00h0.75V334.00h-0.75ZM545.83,315.50h0.75V342.00h-0.75ZM548.02,331.00h0.75V355.50h-0.75ZM550.23,335.00h0.75V354.00h-0.75ZM552.43,349.00h0.75V368.00h-0.75ZM554.62,361.50h0.75V377.50h-0.75ZM561.23,352.00h0.75V367.50h-0.75ZM572.23,326.00h0.75V338.50h-0.75ZM574.43,320.50h0.75V346.50h-0.75ZM581.02,310.00h0.75V342.50h-0.75ZM583.23,331.00h0.75V346.50h-0.75ZM587.62,324.00h0.75V338.00h-0.75ZM589.83,337.00h0.75V350.50h-0.75ZM592.02,340.50h0.75V354.50h-0.75ZM596.43,343.50h0.75V354.00h-0.75ZM600.83,337.50h0.75V348.00h-0.75ZM603.02,337.50h0.75V352.00h-0.75ZM605.23,344.50h0.75V373.00h-0.75ZM609.62,358.00h0.75V365.00h-0.75ZM614.02,358.00h0.75V375.50h-0.75ZM618.43,365.00h0.75V374.50h-0.75ZM620.62,373.00h0.75V387.50h-0.75ZM627.23,365.00h0.75V383.00h-0.75ZM631.62,373.50h0.75V379.50h-0.75ZM638.23,345.00h0.75V364.00h-0.75ZM649.23,343.00h0.75V358.50h-0.75ZM651.43,350.00h0.75V367.00h-0.75ZM660.23,338.50h0.75V362.50h-0.75ZM662.43,357.00h0.75V362.50h-0.75ZM664.62,359.50h0.75V365.50h-0.75ZM666.83,364.00h0.75V391.00h-0.75ZM669.03,378.00h0.75V385.50h-0.75ZM673.43,382.00h0.75V398.00h-0.75ZM677.83,386.00h0.75V391.00h-0.75ZM682.23,386.50h0.75V394.00h-0.75ZM684.43,389.00h0.75V406.00h-0.75ZM691.03,373.00h0.75V384.00h-0.75ZM693.23,378.50h0.75V389.00h-0.75ZM695.43,372.50h0.75V388.50h-0.75ZM699.83,384.50h0.75V396.50h-0.75ZM702.03,394.00h0.75V400.50h-0.75ZM704.23,397.50h0.75V424.50h-0.75ZM706.43,419.00h0.75V517.00h-0.75ZM713.03,466.00h0.75V476.00h-0.75ZM715.23,473.00h0.75V498.50h-0.75ZM717.43,491.00h0.75V505.50h-0.75ZM719.63,502.00h0.75V513.50h-0.75ZM721.83,512.50h0.75V520.00h-0.75ZM724.03,512.50h0.75V521.00h-0.75ZM728.43,501.00h0.75V515.00h-0.75ZM730.63,513.50h0.75V524.50h-0.75ZM732.83,523.50h0.75V531.50h-0.75ZM739.43,515.00h0.75V520.00h-0.75ZM743.83,509.00h0.75V516.50h-0.75ZM746.03,512.50h0.75V521.00h-0.75ZM750.43,514.50h0.75V528.00h-0.75ZM752.63,526.00h0.75V529.50h-0.75ZM757.03,512.50h0.75V524.50h-0.75ZM759.23,523.50h0.75V541.00h-0.75ZM770.23,457.00h0.75V492.00h-0.75ZM776.83,465.00h0.75V490.00h-0.75ZM779.03,477.00h0.75V497.50h-0.75ZM781.23,493.00h0.75V510.00h-0.75ZM783.43,505.50h0.75V515.00h-0.75ZM787.83,504.50h0.75V515.50h-0.75ZM790.03,512.50h0.75V516.50h-0.75ZM796.63,484.50h0.75V502.00h-0.75ZM798.83,495.00h0.75V514.00h-0.75ZM801.03,502.00h0.75V515.00h-0.75ZM803.23,504.50h0.75V512.00h-0.75ZM809.83,509.00h0.75V521.00h-0.75ZM812.03,514.50h0.75V517.50h-0.75Z" fill="#f23645" fill-opacity="0.75"/>
<path d="M166.95,326.93h1.7V332.79h-1.7ZM169.15,323.99h1.7V326.93h-1.7ZM171.35,310.18h1.7V323.99h-1.7ZM177.95,288.40h1.7V313.94h-1.7ZM182.35,294.26h1.7V306.83h-1.7ZM186.75,306.41h1.7V308.50h-1.7ZM195.55,308.08h1.7V329.02h-1.7ZM199.95,302.64h1.7V316.46h-1.7ZM217.55,318.97h1.7V363.00h-1.7ZM224.15,371.50h1.7V384.50h-1.7ZM226.35,367.00h1.7V372.00h-1.7ZM230.75,379.00h1.7V386.00h-1.7ZM237.35,428.00h1.7V436.00h-1.7ZM239.55,419.00h1.7V428.00h-1.7ZM243.95,413.00h1.7V421.50h-1.7ZM246.15,409.50h1.7V413.50h-1.7ZM250.55,410.00h1.7V417.00h-1.7ZM254.95,400.00h1.7V414.50h-1.7ZM261.55,415.00h1.7V420.00h-1.7ZM263.75,411.50h1.7V415.00h-1.7ZM265.95,398.50h1.7V412.00h-1.7ZM268.15,393.00h1.7V398.50h-1.7ZM283.55,432.50h1.7V439.00h-1.7ZM287.95,446.50h1.7V448.50h-1.7ZM290.15,443.00h1.7V447.00h-1.7ZM296.75,464.00h1.7V467.50h-1.7ZM301.15,442.50h1.7V469.00h-1.7ZM305.55,441.50h1.7V453.00h-1.7ZM307.75,426.00h1.7V442.00h-1.7ZM309.95,422.00h1.7V426.00h-1.7ZM318.75,421.00h1.7V437.00h-1.7ZM320.95,418.00h1.7V421.50h-1.7ZM323.15,397.00h1.7V418.00h-1.7ZM325.35,378.00h1.7V397.50h-1.7ZM327.55,377.00h1.7V378.20h-1.7ZM329.75,363.00h1.7V377.00h-1.7ZM334.15,332.50h1.7V369.50h-1.7ZM336.35,317.00h1.7V333.00h-1.7ZM338.55,306.00h1.7V317.00h-1.7ZM342.95,331.50h1.7V333.50h-1.7ZM347.35,323.00h1.7V336.50h-1.7ZM358.35,353.50h1.7V355.50h-1.7ZM360.55,346.50h1.7V353.50h-1.7ZM364.95,306.00h1.7V348.50h-1.7ZM367.15,286.00h1.7V306.00h-1.7ZM369.35,254.00h1.7V286.50h-1.7ZM375.95,260.00h1.7V284.50h-1.7ZM386.95,306.50h1.7V319.00h-1.7ZM391.35,316.00h1.7V323.50h-1.7ZM393.55,295.50h1.7V316.00h-1.7ZM395.75,263.00h1.7V295.50h-1.7ZM400.15,275.50h1.7V278.50h-1.7ZM404.55,269.00h1.7V277.50h-1.7ZM406.75,259.50h1.7V269.50h-1.7ZM408.95,251.00h1.7V260.50h-1.7ZM415.55,316.00h1.7V319.00h-1.7ZM417.75,313.00h1.7V316.00h-1.7ZM419.95,304.00h1.7V313.00h-1.7ZM422.15,289.00h1.7V304.50h-1.7ZM430.95,308.50h1.7V330.00h-1.7ZM435.35,299.50h1.7V321.00h-1.7ZM437.55,291.00h1.7V300.00h-1.7ZM448.55,339.00h1.7V352.00h-1.7ZM455.15,349.00h1.7V357.00h-1.7ZM457.35,347.00h1.7V349.50h-1.7ZM466.15,344.00h1.7V385.50h-1.7ZM472.75,353.00h1.7V355.00h-1.7ZM474.95,348.50h1.7V353.00h-1.7ZM477.15,343.50h1.7V349.00h-1.7ZM479.35,333.50h1.7V343.50h-1.7ZM485.95,333.50h1.7V352.00h-1.7ZM488.15,329.00h1.7V334.00h-1.7ZM494.75,345.50h1.7V352.50h-1.7ZM499.15,348.50h1.7V350.00h-1.7ZM501.35,336.50h1.7V349.00h-1.7ZM503.55,320.00h1.7V337.00h-1.7ZM510.15,325.50h1.7V343.00h-1.7ZM514.55,318.00h1.7V334.00h-1.7ZM516.75,307.00h1.7V318.00h-1.7ZM523.35,305.00h1.7V314.50h-1.7ZM525.55,297.50h1.7V305.00h-1.7ZM527.75,281.00h1.7V297.50h-1.7ZM536.55,322.00h1.7V328.50h-1.7ZM540.95,315.50h1.7V325.50h-1.7ZM556.35,365.00h1.7V373.00h-1.7ZM558.55,352.00h1.7V364.50h-1.7ZM562.95,359.00h1.7V360.50h-1.7ZM565.15,343.00h1.7V359.50h-1.7ZM567.35,337.00h1.7V343.50h-1.7ZM569.55,331.00h1.7V337.50h-1.7ZM576.15,329.00h1.7V344.00h-1.7ZM578.35,317.50h1.7V329.00h-1.7ZM584.95,335.00h1.7V338.50h-1.7ZM593.75,345.00h1.7V354.00h-1.7ZM598.15,337.50h1.7V353.50h-1.7ZM606.95,359.50h1.7V369.50h-1.7ZM611.35,359.00h1.7V364.00h-1.7ZM615.75,369.00h1.7V372.00h-1.7ZM622.35,372.00h1.7V383.00h-1.7ZM624.55,371.00h1.7V372.50h-1.7ZM628.95,375.00h1.7V382.00h-1.7ZM633.35,369.00h1.7V378.00h-1.7ZM635.55,359.50h1.7V369.00h-1.7ZM639.95,356.50h1.7V361.00h-1.7ZM642.15,351.00h1.7V356.50h-1.7ZM644.35,345.50h1.7V351.00h-1.7ZM646.55,343.50h1.7V345.50h-1.7ZM653.15,361.50h1.7V363.00h-1.7ZM655.35,352.00h1.7V361.50h-1.7ZM657.55,349.50h1.7V352.00h-1.7ZM670.75,383.00h1.7V385.00h-1.7ZM675.15,386.50h1.7V396.00h-1.7ZM679.55,387.00h1.7V390.00h-1.7ZM686.15,381.50h1.7V401.50h-1.7ZM688.35,375.50h1.7V381.50h-1.7ZM697.15,385.50h1.7V388.00h-1.7ZM708.15,475.00h1.7V480.50h-1.7ZM710.35,469.50h1.7V475.00h-1.7ZM725.75,506.00h1.7V518.00h-1.7ZM734.55,521.50h1.7V528.00h-1.7ZM736.75,516.00h1.7V521.50h-1.7ZM741.15,510.50h1.7V518.50h-1.7ZM747.75,517.50h1.7V519.00h-1.7ZM754.35,518.00h1.7V528.00h-1.7ZM760.95,537.00h1.7V538.50h-1.7ZM763.15,533.00h1.7V537.00h-1.7ZM765.35,529.50h1.7V533.00h-1.7ZM767.55,475.00h1.7V529.50h-1.7ZM771.95,481.50h1.7V485.00h-1.7ZM774.15,481.00h1.7V482.00h-1.7ZM785.15,507.00h1.7V513.50h-1.7ZM791.75,501.50h1.7V514.50h-1.7ZM793.95,489.50h1.7V501.50h-1.7ZM804.95,510.00h1.7V511.50h-1.7ZM807.15,510.00h1.7V511.00h-1.7ZM813.75,514.50h1.7V516.50h-1.7ZM815.95,512.50h1.7V514.50h-1.7Z" fill="#089981"/>
<path d="M164.75,313.11h1.7V332.79h-1.7ZM173.55,309.34h1.7V311.01h-1.7ZM175.75,311.01h1.7V313.94h-1.7ZM180.15,288.40h1.7V306.83h-1.7ZM184.55,294.26h1.7V306.83h-1.7ZM188.95,306.41h1.7V314.78h-1.7ZM191.15,314.78h1.7V326.09h-1.7ZM193.35,326.09h1.7V328.60h-1.7ZM197.75,308.08h1.7V316.46h-1.7ZM202.15,302.22h1.7V314.78h-1.7ZM204.35,315.20h1.7V351.50h-1.7ZM206.55,351.00h1.7V352.00h-1.7ZM208.75,352.00h1.7V354.50h-1.7ZM210.95,354.50h1.7V356.00h-1.7ZM213.15,355.50h1.7V357.50h-1.7ZM215.35,357.50h1.7V362.50h-1.7ZM219.75,318.55h1.7V372.00h-1.7ZM221.95,372.00h1.7V384.50h-1.7ZM228.55,367.00h1.7V386.00h-1.7ZM232.95,378.50h1.7V408.50h-1.7ZM235.15,408.00h1.7V436.00h-1.7ZM241.75,419.00h1.7V422.00h-1.7ZM248.35,409.50h1.7V417.50h-1.7ZM252.75,410.00h1.7V414.00h-1.7ZM257.15,399.50h1.7V411.00h-1.7ZM259.35,411.00h1.7V420.00h-1.7ZM270.35,393.00h1.7V398.50h-1.7ZM272.55,398.00h1.7V399.50h-1.7ZM274.75,399.50h1.7V416.00h-1.7ZM276.95,416.00h1.7V432.00h-1.7ZM279.15,432.00h1.7V433.00h-1.7ZM281.35,432.50h1.7V439.00h-1.7ZM285.75,432.50h1.7V448.50h-1.7ZM292.35,443.00h1.7V447.00h-1.7ZM294.55,447.00h1.7V467.50h-1.7ZM298.95,464.00h1.7V469.50h-1.7ZM303.35,443.00h1.7V453.00h-1.7ZM312.15,421.50h1.7V426.00h-1.7ZM314.35,426.00h1.7V436.50h-1.7ZM316.55,433.00h1.7V436.50h-1.7ZM331.95,363.00h1.7V370.00h-1.7ZM340.75,306.00h1.7V333.50h-1.7ZM345.15,331.50h1.7V336.50h-1.7ZM349.55,323.00h1.7V325.50h-1.7ZM351.75,325.50h1.7V334.00h-1.7ZM353.95,333.50h1.7V345.00h-1.7ZM356.15,345.00h1.7V355.50h-1.7ZM362.75,346.50h1.7V348.50h-1.7ZM371.55,254.00h1.7V277.00h-1.7ZM373.75,276.50h1.7V285.00h-1.7ZM378.15,260.00h1.7V284.50h-1.7ZM380.35,284.50h1.7V305.50h-1.7ZM382.55,305.50h1.7V312.00h-1.7ZM384.75,312.00h1.7V319.00h-1.7ZM389.15,306.00h1.7V323.50h-1.7ZM397.95,263.00h1.7V278.50h-1.7ZM402.35,275.50h1.7V277.50h-1.7ZM411.15,251.00h1.7V276.00h-1.7ZM413.35,276.00h1.7V319.00h-1.7ZM424.35,289.00h1.7V298.50h-1.7ZM426.55,298.50h1.7V329.00h-1.7ZM428.75,329.00h1.7V330.50h-1.7ZM433.15,308.50h1.7V321.00h-1.7ZM439.75,291.00h1.7V307.00h-1.7ZM441.95,307.00h1.7V331.00h-1.7ZM444.15,331.00h1.7V347.50h-1.7ZM446.35,347.50h1.7V352.00h-1.7ZM450.75,339.00h1.7V341.00h-1.7ZM452.95,341.00h1.7V357.00h-1.7ZM459.55,347.50h1.7V359.50h-1.7ZM461.75,359.50h1.7V374.50h-1.7ZM463.95,374.50h1.7V385.50h-1.7ZM468.35,344.00h1.7V347.50h-1.7ZM470.55,347.50h1.7V355.00h-1.7ZM481.55,333.50h1.7V347.50h-1.7ZM483.75,347.50h1.7V352.50h-1.7ZM490.35,329.00h1.7V348.50h-1.7ZM492.55,348.50h1.7V352.50h-1.7ZM496.95,345.50h1.7V349.50h-1.7ZM505.75,320.00h1.7V331.50h-1.7ZM507.95,331.50h1.7V343.00h-1.7ZM512.35,325.50h1.7V334.00h-1.7ZM518.95,307.00h1.7V311.00h-1.7ZM521.15,311.00h1.7V314.50h-1.7ZM529.95,281.00h1.7V288.00h-1.7ZM532.15,288.00h1.7V318.00h-1.7ZM534.35,318.00h1.7V322.00h-1.7ZM538.75,322.00h1.7V325.50h-1.7ZM543.15,316.00h1.7V330.50h-1.7ZM545.35,330.50h1.7V334.50h-1.7ZM547.55,334.50h1.7V344.00h-1.7ZM549.75,344.00h1.7V350.00h-1.7ZM551.95,350.00h1.7V364.50h-1.7ZM554.15,364.50h1.7V373.00h-1.7ZM560.75,352.00h1.7V360.50h-1.7ZM571.75,331.00h1.7V332.00h-1.7ZM573.95,332.00h1.7V344.00h-1.7ZM580.55,317.50h1.7V336.00h-1.7ZM582.75,335.50h1.7V338.50h-1.7ZM587.15,335.50h1.7V337.50h-1.7ZM589.35,337.50h1.7V347.00h-1.7ZM591.55,347.00h1.7V354.00h-1.7ZM595.95,345.00h1.7V353.50h-1.7ZM600.35,337.50h1.7V342.00h-1.7ZM602.55,342.00h1.7V346.50h-1.7ZM604.75,346.50h1.7V369.50h-1.7ZM609.15,359.50h1.7V364.00h-1.7ZM613.55,359.00h1.7V372.00h-1.7ZM617.95,369.00h1.7V374.00h-1.7ZM620.15,374.00h1.7V383.00h-1.7ZM626.75,370.50h1.7V382.50h-1.7ZM631.15,374.50h1.7V378.00h-1.7ZM637.75,359.50h1.7V361.00h-1.7ZM648.75,343.50h1.7V355.00h-1.7ZM650.95,354.50h1.7V363.00h-1.7ZM659.75,349.50h1.7V360.50h-1.7ZM661.95,360.50h1.7V362.00h-1.7ZM664.15,362.00h1.7V365.00h-1.7ZM666.35,365.00h1.7V379.00h-1.7ZM668.55,379.00h1.7V384.50h-1.7ZM672.95,383.00h1.7V395.50h-1.7ZM677.35,386.50h1.7V390.00h-1.7ZM681.75,387.00h1.7V390.00h-1.7ZM683.95,390.00h1.7V401.50h-1.7ZM690.55,376.00h1.7V379.50h-1.7ZM692.75,379.50h1.7V384.00h-1.7ZM694.95,384.00h1.7V387.50h-1.7ZM699.35,385.50h1.7V396.00h-1.7ZM701.55,396.00h1.7V398.00h-1.7ZM703.75,398.00h1.7V424.00h-1.7ZM705.95,424.00h1.7V480.50h-1.7ZM712.55,469.50h1.7V473.00h-1.7ZM714.75,473.00h1.7V496.00h-1.7ZM716.95,495.50h1.7V505.00h-1.7ZM719.15,505.00h1.7V513.00h-1.7ZM721.35,512.50h1.7V515.00h-1.7ZM723.55,514.50h1.7V518.00h-1.7ZM727.95,506.00h1.7V514.00h-1.7ZM730.15,514.00h1.7V524.00h-1.7ZM732.35,524.00h1.7V528.00h-1.7ZM738.95,516.00h1.7V519.00h-1.7ZM743.35,510.00h1.7V516.00h-1.7ZM745.55,516.00h1.7V519.00h-1.7ZM749.95,517.50h1.7V526.50h-1.7ZM752.15,526.50h1.7V528.00h-1.7ZM756.55,518.00h1.7V524.00h-1.7ZM758.75,524.00h1.7V538.50h-1.7ZM769.75,475.00h1.7V485.00h-1.7ZM776.35,481.00h1.7V489.50h-1.7ZM778.55,489.50h1.7V497.00h-1.7ZM780.75,497.00h1.7V506.00h-1.7ZM782.95,506.00h1.7V513.50h-1.7ZM787.35,507.00h1.7V513.00h-1.7ZM789.55,513.00h1.7V514.50h-1.7ZM796.15,489.50h1.7V495.50h-1.7ZM798.35,495.50h1.7V502.00h-1.7ZM800.55,503.50h1.7V510.00h-1.7ZM802.75,510.00h1.7V511.00h-1.7ZM809.35,510.00h1.7V515.00h-1.7ZM811.55,515.00h1.7V516.50h-1.7Z" fill="#f23645"/>
<g fill="#2962ff"><circle cx="165.60" cy="267.00" r="0.92"/><circle cx="167.80" cy="286.70" r="0.92"/><circle cx="170.00" cy="300.00" r="0.92"/><circle cx="172.20" cy="376.20" r="0.92"/><circle cx="174.40" cy="375.00" r="0.92"/><circle cx="176.60" cy="371.50" r="0.92"/><circle cx="178.80" cy="367.00" r="0.92"/><circle cx="181.00" cy="360.30" r="0.92"/><circle cx="183.20" cy="354.10" r="0.92"/><circle cx="185.40" cy="346.70" r="0.92"/><circle cx="187.60" cy="340.20" r="0.92"/><circle cx="189.80" cy="334.40" r="0.92"/><circle cx="192.00" cy="281.00" r="0.92"/><circle cx="194.20" cy="282.40" r="0.92"/><circle cx="196.40" cy="283.40" r="0.92"/><circle cx="198.60" cy="284.40" r="0.92"/><circle cx="200.80" cy="285.20" r="0.92"/><circle cx="203.00" cy="286.00" r="0.92"/><circle cx="205.20" cy="287.10" r="0.92"/><circle cx="207.40" cy="289.90" r="0.92"/><circle cx="209.60" cy="294.90" r="0.92"/><circle cx="211.80" cy="299.50" r="0.92"/><circle cx="214.00" cy="303.90" r="0.92"/><circle cx="216.20" cy="310.20" r="0.92"/><circle cx="218.40" cy="380.00" r="0.92"/><circle cx="220.60" cy="378.50" r="0.92"/><circle cx="222.80" cy="307.10" r="0.92"/><circle cx="225.00" cy="308.80" r="0.92"/><circle cx="227.20" cy="310.60" r="0.92"/><circle cx="229.40" cy="312.30" r="0.92"/><circle cx="231.60" cy="313.90" r="0.92"/><circle cx="233.80" cy="316.00" r="0.92"/><circle cx="236.00" cy="320.30" r="0.92"/><circle cx="238.20" cy="327.00" r="0.92"/><circle cx="240.40" cy="337.00" r="0.92"/><circle cx="242.60" cy="346.20" r="0.92"/><circle cx="244.80" cy="355.00" r="0.92"/><circle cx="247.00" cy="362.80" r="0.92"/><circle cx="249.20" cy="369.70" r="0.92"/><circle cx="251.40" cy="376.30" r="0.92"/><circle cx="253.60" cy="382.70" r="0.92"/><circle cx="255.80" cy="388.20" r="0.92"/><circle cx="258.00" cy="393.20" r="0.92"/><circle cx="260.20" cy="397.70" r="0.92"/><circle cx="262.40" cy="398.80" r="0.92"/><circle cx="264.60" cy="402.50" r="0.92"/><circle cx="266.80" cy="453.00" r="0.92"/><circle cx="269.00" cy="451.20" r="0.92"/><circle cx="271.20" cy="449.50" r="0.92"/><circle cx="273.40" cy="445.50" r="0.92"/><circle cx="275.60" cy="442.00" r="0.92"/><circle cx="277.80" cy="438.70" r="0.92"/><circle cx="280.00" cy="385.50" r="0.92"/><circle cx="282.20" cy="386.50" r="0.92"/><circle cx="284.40" cy="388.50" r="0.92"/><circle cx="286.60" cy="391.00" r="0.92"/><circle cx="288.80" cy="394.50" r="0.92"/><circle cx="291.00" cy="399.50" r="0.92"/><circle cx="293.20" cy="404.00" r="0.92"/><circle cx="295.40" cy="408.50" r="0.92"/><circle cx="297.60" cy="414.50" r="0.92"/><circle cx="299.80" cy="422.70" r="0.92"/><circle cx="302.00" cy="430.20" r="0.92"/><circle cx="304.20" cy="436.50" r="0.92"/><circle cx="306.40" cy="483.80" r="0.92"/><circle cx="308.60" cy="482.80" r="0.92"/><circle cx="310.80" cy="480.30" r="0.92"/><circle cx="313.00" cy="475.50" r="0.92"/><circle cx="315.20" cy="470.80" r="0.92"/><circle cx="317.40" cy="467.00" r="0.92"/><circle cx="319.60" cy="463.30" r="0.92"/><circle cx="321.80" cy="459.50" r="0.92"/><circle cx="324.00" cy="456.00" r="0.92"/><circle cx="326.20" cy="450.70" r="0.92"/><circle cx="328.40" cy="442.50" r="0.92"/><circle cx="330.60" cy="432.20" r="0.92"/><circle cx="332.80" cy="423.00" r="0.92"/><circle cx="335.00" cy="414.90" r="0.92"/><circle cx="337.20" cy="403.00" r="0.92"/><circle cx="339.40" cy="390.50" r="0.92"/><circle cx="341.60" cy="371.50" r="0.92"/><circle cx="343.80" cy="357.00" r="0.92"/><circle cx="346.00" cy="345.00" r="0.92"/><circle cx="348.20" cy="290.80" r="0.92"/><circle cx="350.40" cy="292.20" r="0.92"/><circle cx="352.60" cy="293.20" r="0.92"/><circle cx="354.80" cy="294.00" r="0.92"/><circle cx="357.00" cy="296.30" r="0.92"/><circle cx="359.20" cy="300.40" r="0.92"/><circle cx="361.40" cy="304.70" r="0.92"/><circle cx="363.60" cy="311.50" r="0.92"/><circle cx="365.80" cy="366.00" r="0.92"/><circle cx="368.00" cy="364.50" r="0.92"/><circle cx="370.20" cy="360.70" r="0.92"/><circle cx="372.40" cy="354.20" r="0.92"/><circle cx="374.60" cy="346.00" r="0.92"/><circle cx="376.80" cy="336.70" r="0.92"/><circle cx="379.00" cy="328.20" r="0.92"/><circle cx="381.20" cy="320.30" r="0.92"/><circle cx="383.40" cy="250.80" r="0.92"/><circle cx="385.60" cy="252.00" r="0.92"/><circle cx="387.80" cy="255.00" r="0.92"/><circle cx="390.00" cy="259.30" r="0.92"/><circle cx="392.20" cy="265.80" r="0.92"/><circle cx="394.40" cy="271.20" r="0.92"/><circle cx="396.60" cy="336.50" r="0.92"/><circle cx="398.80" cy="334.80" r="0.92"/><circle cx="401.00" cy="330.00" r="0.92"/><circle cx="403.20" cy="325.70" r="0.92"/><circle cx="405.40" cy="321.30" r="0.92"/><circle cx="407.60" cy="317.20" r="0.92"/><circle cx="409.80" cy="313.50" r="0.92"/><circle cx="412.00" cy="309.70" r="0.92"/><circle cx="414.20" cy="219.70" r="0.92"/><circle cx="416.40" cy="221.90" r="0.92"/><circle cx="418.60" cy="226.80" r="0.92"/><circle cx="420.80" cy="231.00" r="0.92"/><circle cx="423.00" cy="234.80" r="0.92"/><circle cx="425.20" cy="238.80" r="0.92"/><circle cx="427.40" cy="242.70" r="0.92"/><circle cx="429.60" cy="246.20" r="0.92"/><circle cx="431.80" cy="251.30" r="0.92"/><circle cx="434.00" cy="256.50" r="0.92"/><circle cx="436.20" cy="260.90" r="0.92"/><circle cx="438.40" cy="265.50" r="0.92"/><circle cx="440.60" cy="269.50" r="0.92"/><circle cx="442.80" cy="273.50" r="0.92"/><circle cx="445.00" cy="277.30" r="0.92"/><circle cx="447.20" cy="283.70" r="0.92"/><circle cx="449.40" cy="289.70" r="0.92"/><circle cx="451.60" cy="295.50" r="0.92"/><circle cx="453.80" cy="300.70" r="0.92"/><circle cx="456.00" cy="306.50" r="0.92"/><circle cx="458.20" cy="313.70" r="0.92"/><circle cx="460.40" cy="320.00" r="0.92"/><circle cx="462.60" cy="326.30" r="0.92"/><circle cx="464.80" cy="335.30" r="0.92"/><circle cx="467.00" cy="399.80" r="0.92"/><circle cx="469.20" cy="399.70" r="0.92"/><circle cx="471.40" cy="397.00" r="0.92"/><circle cx="473.60" cy="394.50" r="0.92"/><circle cx="475.80" cy="392.00" r="0.92"/><circle cx="478.00" cy="389.50" r="0.92"/><circle cx="480.20" cy="387.00" r="0.92"/><circle cx="482.40" cy="384.20" r="0.92"/><circle cx="484.60" cy="380.50" r="0.92"/><circle cx="486.80" cy="377.20" r="0.92"/><circle cx="489.00" cy="373.30" r="0.92"/><circle cx="491.20" cy="368.20" r="0.92"/><circle cx="493.40" cy="363.00" r="0.92"/><circle cx="495.60" cy="318.00" r="0.92"/><circle cx="497.80" cy="319.30" r="0.92"/><circle cx="500.00" cy="320.00" r="0.92"/><circle cx="502.20" cy="320.70" r="0.92"/><circle cx="504.40" cy="360.00" r="0.92"/><circle cx="506.60" cy="359.50" r="0.92"/><circle cx="508.80" cy="357.00" r="0.92"/><circle cx="511.00" cy="355.50" r="0.92"/><circle cx="513.20" cy="353.50" r="0.92"/><circle cx="515.40" cy="351.50" r="0.92"/><circle cx="517.60" cy="349.50" r="0.92"/><circle cx="519.80" cy="347.20" r="0.92"/><circle cx="522.00" cy="344.00" r="0.92"/><circle cx="524.20" cy="339.50" r="0.92"/><circle cx="526.40" cy="334.70" r="0.92"/><circle cx="528.60" cy="330.60" r="0.92"/><circle cx="530.80" cy="323.50" r="0.92"/><circle cx="533.00" cy="262.00" r="0.92"/><circle cx="535.20" cy="263.70" r="0.92"/><circle cx="537.40" cy="266.80" r="0.92"/><circle cx="539.60" cy="270.70" r="0.92"/><circle cx="541.80" cy="275.00" r="0.92"/><circle cx="544.00" cy="278.50" r="0.92"/><circle cx="546.20" cy="282.00" r="0.92"/><circle cx="548.40" cy="286.70" r="0.92"/><circle cx="550.60" cy="293.00" r="0.92"/><circle cx="552.80" cy="300.50" r="0.92"/><circle cx="555.00" cy="308.50" r="0.92"/><circle cx="557.20" cy="318.20" r="0.92"/><circle cx="559.40" cy="326.50" r="0.92"/><circle cx="561.60" cy="334.00" r="0.92"/><circle cx="563.80" cy="340.00" r="0.92"/><circle cx="566.00" cy="377.50" r="0.92"/><circle cx="568.20" cy="377.00" r="0.92"/><circle cx="570.40" cy="375.00" r="0.92"/><circle cx="572.60" cy="372.00" r="0.92"/><circle cx="574.80" cy="368.50" r="0.92"/><circle cx="577.00" cy="363.70" r="0.92"/><circle cx="579.20" cy="359.50" r="0.92"/><circle cx="581.40" cy="354.00" r="0.92"/><circle cx="583.60" cy="347.80" r="0.92"/><circle cx="585.80" cy="347.80" r="0.92"/><circle cx="588.00" cy="347.80" r="0.92"/><circle cx="590.20" cy="309.70" r="0.92"/><circle cx="592.40" cy="311.00" r="0.92"/><circle cx="594.60" cy="312.50" r="0.92"/><circle cx="596.80" cy="315.00" r="0.92"/><circle cx="599.00" cy="317.80" r="0.92"/><circle cx="601.20" cy="321.20" r="0.92"/><circle cx="603.40" cy="324.50" r="0.92"/><circle cx="605.60" cy="328.00" r="0.92"/><circle cx="607.80" cy="332.20" r="0.92"/><circle cx="610.00" cy="336.50" r="0.92"/><circle cx="612.20" cy="340.30" r="0.92"/><circle cx="614.40" cy="343.50" r="0.92"/><circle cx="616.60" cy="347.00" r="0.92"/><circle cx="618.80" cy="351.20" r="0.92"/><circle cx="621.00" cy="355.00" r="0.92"/><circle cx="623.20" cy="359.80" r="0.92"/><circle cx="625.40" cy="364.30" r="0.92"/><circle cx="627.60" cy="367.30" r="0.92"/><circle cx="629.80" cy="387.70" r="0.92"/><circle cx="632.00" cy="387.50" r="0.92"/><circle cx="634.20" cy="387.20" r="0.92"/><circle cx="636.40" cy="386.50" r="0.92"/><circle cx="638.60" cy="384.30" r="0.92"/><circle cx="640.80" cy="381.00" r="0.92"/><circle cx="643.00" cy="378.20" r="0.92"/><circle cx="645.20" cy="375.50" r="0.92"/><circle cx="647.40" cy="372.50" r="0.92"/><circle cx="649.60" cy="368.30" r="0.92"/><circle cx="651.80" cy="339.00" r="0.92"/><circle cx="654.00" cy="339.50" r="0.92"/><circle cx="656.20" cy="340.30" r="0.92"/><circle cx="658.40" cy="342.00" r="0.92"/><circle cx="660.60" cy="368.30" r="0.92"/><circle cx="662.80" cy="368.00" r="0.92"/><circle cx="665.00" cy="367.50" r="0.92"/><circle cx="667.20" cy="337.50" r="0.92"/><circle cx="669.40" cy="338.50" r="0.92"/><circle cx="671.60" cy="339.70" r="0.92"/><circle cx="673.80" cy="340.70" r="0.92"/><circle cx="676.00" cy="343.50" r="0.92"/><circle cx="678.20" cy="345.80" r="0.92"/><circle cx="680.40" cy="348.00" r="0.92"/><circle cx="682.60" cy="350.00" r="0.92"/><circle cx="684.80" cy="351.50" r="0.92"/><circle cx="687.00" cy="355.00" r="0.92"/><circle cx="689.20" cy="359.50" r="0.92"/><circle cx="691.40" cy="363.50" r="0.92"/><circle cx="693.60" cy="366.50" r="0.92"/><circle cx="695.80" cy="368.50" r="0.92"/><circle cx="698.00" cy="370.50" r="0.92"/><circle cx="700.20" cy="372.50" r="0.92"/><circle cx="702.40" cy="375.50" r="0.92"/><circle cx="704.60" cy="379.00" r="0.92"/><circle cx="706.80" cy="383.00" r="0.92"/><circle cx="709.00" cy="397.00" r="0.92"/><circle cx="711.20" cy="411.50" r="0.92"/><circle cx="713.40" cy="424.00" r="0.92"/><circle cx="715.60" cy="435.00" r="0.92"/><circle cx="717.80" cy="445.30" r="0.92"/><circle cx="720.00" cy="453.80" r="0.92"/><circle cx="722.20" cy="461.50" r="0.92"/><circle cx="724.40" cy="469.50" r="0.92"/><circle cx="726.60" cy="478.00" r="0.92"/><circle cx="728.80" cy="484.70" r="0.92"/><circle cx="731.00" cy="490.70" r="0.92"/><circle cx="733.20" cy="496.70" r="0.92"/><circle cx="735.40" cy="503.80" r="0.92"/><circle cx="737.60" cy="509.50" r="0.92"/><circle cx="739.80" cy="512.50" r="0.92"/><circle cx="742.00" cy="531.80" r="0.92"/><circle cx="744.20" cy="531.00" r="0.92"/><circle cx="746.40" cy="530.30" r="0.92"/><circle cx="748.60" cy="529.70" r="0.92"/><circle cx="750.80" cy="508.50" r="0.92"/><circle cx="753.00" cy="509.00" r="0.92"/><circle cx="755.20" cy="509.50" r="0.92"/><circle cx="757.40" cy="510.00" r="0.92"/><circle cx="759.60" cy="510.70" r="0.92"/><circle cx="761.80" cy="511.50" r="0.92"/><circle cx="764.00" cy="513.50" r="0.92"/><circle cx="766.20" cy="515.80" r="0.92"/><circle cx="768.40" cy="544.80" r="0.92"/><circle cx="770.60" cy="542.30" r="0.92"/><circle cx="772.80" cy="540.00" r="0.92"/><circle cx="775.00" cy="538.30" r="0.92"/><circle cx="777.20" cy="536.50" r="0.92"/><circle cx="779.40" cy="534.70" r="0.92"/><circle cx="781.60" cy="532.80" r="0.92"/><circle cx="783.80" cy="531.00" r="0.92"/><circle cx="786.00" cy="529.30" r="0.92"/><circle cx="788.20" cy="527.70" r="0.92"/><circle cx="790.40" cy="526.00" r="0.92"/><circle cx="792.60" cy="524.30" r="0.92"/><circle cx="794.80" cy="522.50" r="0.92"/><circle cx="797.00" cy="520.80" r="0.92"/><circle cx="799.20" cy="519.00" r="0.92"/><circle cx="801.40" cy="517.30" r="0.92"/><circle cx="803.60" cy="515.80" r="0.92"/><circle cx="805.80" cy="436.50" r="0.92"/><circle cx="808.00" cy="438.10" r="0.92"/><circle cx="810.20" cy="441.50" r="0.92"/><circle cx="812.40" cy="446.30" r="0.92"/><circle cx="814.60" cy="450.70" r="0.92"/><circle cx="816.80" cy="454.80" r="0.92"/></g>
<path d="M165,513.9H982" stroke="#089981" stroke-width="0.8" stroke-dasharray="0.9 1.3" stroke-opacity="0.8" fill="none"/>
<path d="M398.8,220.3L976.0,409.0" stroke="#7b1fa2" stroke-width="1.55" stroke-dasharray="7.6 8.61" fill="none"/>
<path d="M661,337.5L883,542" stroke="#2962ff" stroke-width="1.75" fill="none"/>
</g>
<g opacity="0.999">
<text x="165" y="112.4" font-size="9.6" fill="#131722" text-anchor="start" font-weight="normal" textLength="305" lengthAdjust="spacingAndGlyphs" stroke="#131722" stroke-width="0.2">ChartAnalysis_4 created with TradingView.com, Nov 29, 2025 08:48 UTC</text>
<text x="171" y="132.3" font-size="9.5" fill="#131722" text-anchor="start" font-weight="normal" textLength="255" lengthAdjust="spacingAndGlyphs" stroke="#131722" stroke-width="0.2">Artificial Superintelligence Alliance / US Dollar · 1D · Coinbase</text>
<text x="431.5" y="132.3" font-size="9.5" fill="#131722" text-anchor="start" font-weight="normal" stroke="#131722" stroke-width="0.2">O</text>
<text x="439" y="132.3" font-size="9.5" fill="#089981" text-anchor="start" font-weight="normal" textLength="27" lengthAdjust="spacingAndGlyphs" stroke="#089981" stroke-width="0.2">0.2671</text>
<text x="471" y="132.3" font-size="9.5" fill="#131722" text-anchor="start" font-weight="normal" stroke="#131722" stroke-width="0.2">H</text>
<text x="478.2" y="132.3" font-size="9.5" fill="#089981" text-anchor="start" font-weight="normal" textLength="27.8" lengthAdjust="spacingAndGlyphs" stroke="#089981" stroke-width="0.2">0.2775</text>
<text x="511.7" y="132.3" font-size="9.5" fill="#131722" text-anchor="start" font-weight="normal" stroke="#131722" stroke-width="0.2">L</text>
<text x="517.3" y="132.3" font-size="9.5" fill="#089981" text-anchor="start" font-weight="normal" textLength="28.7" lengthAdjust="spacingAndGlyphs" stroke="#089981" stroke-width="0.2">0.2666</text>
<text x="551.5" y="132.3" font-size="9.5" fill="#131722" text-anchor="start" font-weight="normal" stroke="#131722" stroke-width="0.2">C</text>
<text x="558.8" y="132.3" font-size="9.5" fill="#089981" text-anchor="start" font-weight="normal" textLength="28.2" lengthAdjust="spacingAndGlyphs" stroke="#089981" stroke-width="0.2">0.2696</text>
<text x="592.5" y="132.3" font-size="9.5" fill="#089981" text-anchor="start" font-weight="normal" textLength="75.5" lengthAdjust="spacingAndGlyphs" stroke="#089981" stroke-width="0.2">+0.0026 (+0.97%)</text>
<text x="171" y="145.0" font-size="9.5" fill="#131722" text-anchor="start" font-weight="normal" textLength="82.5" lengthAdjust="spacingAndGlyphs" stroke="#131722" stroke-width="0.2">EMA 20/50/100/200</text>
<text x="259.5" y="145.0" font-size="9.5" fill="#fb2a33" text-anchor="start" font-weight="normal" textLength="28.5" lengthAdjust="spacingAndGlyphs" stroke="#fb2a33" stroke-width="0.2">0.2828</text>
<text x="294" y="145.0" font-size="9.5" fill="#ff8f1f" text-anchor="start" font-weight="normal" textLength="28.5" lengthAdjust="spacingAndGlyphs" stroke="#ff8f1f" stroke-width="0.2">0.3256</text>
<text x="328.5" y="145.0" font-size="9.5" fill="#1fe6f5" text-anchor="start" font-weight="normal" textLength="28" lengthAdjust="spacingAndGlyphs" stroke="#1fe6f5" stroke-width="0.2">0.4148</text>
<text x="362" y="145.0" font-size="9.5" fill="#3a30f2" text-anchor="start" font-weight="normal" textLength="28.5" lengthAdjust="spacingAndGlyphs" stroke="#3a30f2" stroke-width="0.2">0.5457</text>
<text x="171" y="157.3" font-size="9.5" fill="#131722" text-anchor="start" font-weight="normal" textLength="85.5" lengthAdjust="spacingAndGlyphs" stroke="#131722" stroke-width="0.2">SAR (0.02, 0.02, 0.2)</text>
<text x="262.5" y="157.3" font-size="9.5" fill="#2962ff" text-anchor="start" font-weight="normal" textLength="28" lengthAdjust="spacingAndGlyphs" stroke="#2962ff" stroke-width="0.2">0.4143</text>
<text x="989.3" y="627.40" font-size="9.5" fill="#131722" text-anchor="start" font-weight="normal" textLength="29.5" lengthAdjust="spacingAndGlyphs" stroke="none">0.0000</text>
<text x="989.3" y="586.60" font-size="9.5" fill="#131722" text-anchor="start" font-weight="normal" textLength="29.5" lengthAdjust="spacingAndGlyphs" stroke="none">0.1000</text>
<text x="989.3" y="545.80" font-size="9.5" fill="#131722" text-anchor="start" font-weight="normal" textLength="29.5" lengthAdjust="spacingAndGlyphs" stroke="none">0.2000</text>
<text x="989.3" y="505.00" font-size="9.5" fill="#131722" text-anchor="start" font-weight="normal" textLength="29.5" lengthAdjust="spacingAndGlyphs" stroke="none">0.3000</text>
<text x="989.3" y="464.20" font-size="9.5" fill="#131722" text-anchor="start" font-weight="normal" textLength="29.5" lengthAdjust="spacingAndGlyphs" stroke="none">0.4000</text>
<text x="989.3" y="423.40" font-size="9.5" fill="#131722" text-anchor="start" font-weight="normal" textLength="29.5" lengthAdjust="spacingAndGlyphs" stroke="none">0.5000</text>
<text x="989.3" y="382.60" font-size="9.5" fill="#131722" text-anchor="start" font-weight="normal" textLength="29.5" lengthAdjust="spacingAndGlyphs" stroke="none">0.6000</text>
<text x="989.3" y="341.80" font-size="9.5" fill="#131722" text-anchor="start" font-weight="normal" textLength="29.5" lengthAdjust="spacingAndGlyphs" stroke="none">0.7000</text>
<text x="989.3" y="301.00" font-size="9.5" fill="#131722" text-anchor="start" font-weight="normal" textLength="29.5" lengthAdjust="spacingAndGlyphs" stroke="none">0.8000</text>
<text x="989.3" y="260.20" font-size="9.5" fill="#131722" text-anchor="start" font-weight="normal" textLength="29.5" lengthAdjust="spacingAndGlyphs" stroke="none">0.9000</text>
<text x="989.3" y="219.40" font-size="9.5" fill="#131722" text-anchor="start" font-weight="normal" textLength="29.5" lengthAdjust="spacingAndGlyphs" stroke="none">1.0000</text>
<text x="989.3" y="178.60" font-size="9.5" fill="#131722" text-anchor="start" font-weight="normal" textLength="29.5" lengthAdjust="spacingAndGlyphs" stroke="none">1.1000</text>
<text x="989.3" y="137.80" font-size="9.5" fill="#131722" text-anchor="start" font-weight="normal" textLength="29.5" lengthAdjust="spacingAndGlyphs" stroke="none">1.2000</text>
<text x="216.20" y="651.8" font-size="9.3" fill="#131722" text-anchor="middle" font-weight="normal" stroke="none">Mar</text>
<text x="284.40" y="651.8" font-size="9.3" fill="#131722" text-anchor="middle" font-weight="normal" stroke="none">Apr</text>
<text x="350.40" y="651.8" font-size="9.3" fill="#131722" text-anchor="middle" font-weight="normal" stroke="none">May</text>
<text x="418.60" y="651.8" font-size="9.3" fill="#131722" text-anchor="middle" font-weight="normal" stroke="none">Jun</text>
<text x="484.60" y="651.8" font-size="9.3" fill="#131722" text-anchor="middle" font-weight="normal" stroke="none">Jul</text>
<text x="552.80" y="651.8" font-size="9.3" fill="#131722" text-anchor="middle" font-weight="normal" stroke="none">Aug</text>
<text x="621.00" y="651.8" font-size="9.3" fill="#131722" text-anchor="middle" font-weight="normal" stroke="none">Sep</text>
<text x="687.00" y="651.8" font-size="9.3" fill="#131722" text-anchor="middle" font-weight="normal" stroke="none">Oct</text>
<text x="755.20" y="651.8" font-size="9.3" fill="#131722" text-anchor="middle" font-weight="normal" stroke="none">Nov</text>
<text x="821.20" y="651.8" font-size="9.3" fill="#131722" text-anchor="middle" font-weight="normal" stroke="none">Dec</text>
<text x="889.40" y="651.8" font-size="9.3" fill="#131722" text-anchor="middle" font-weight="bold" textLength="22.4" lengthAdjust="spacingAndGlyphs" stroke="none">2026</text>
<text x="957.60" y="651.8" font-size="9.3" fill="#131722" text-anchor="middle" font-weight="normal" stroke="none">Feb</text>
<rect x="983" y="395.3" width="40.2" height="12.6" rx="1" ry="1" fill="#0a0af0"/>
<rect x="983" y="436.2" width="40.2" height="12.4" rx="1" ry="1" fill="#00ffff"/>
<rect x="983" y="448.6" width="40.2" height="12.0" rx="1" ry="1" fill="#2962ff"/>
<rect x="983" y="482.8" width="40.2" height="12.6" rx="1" ry="1" fill="#ff8010"/>
<rect x="983" y="495.4" width="40.2" height="12.4" rx="1" ry="1" fill="#ff1212"/>
<rect x="983" y="507.8" width="48.3" height="21.8" rx="1" ry="1" fill="#089981"/>
<rect x="941.8" y="508.2" width="40.4" height="11.3" rx="1" ry="1" fill="#089981"/>
<text x="989.3" y="404.5" font-size="9.5" fill="#fff" text-anchor="start" font-weight="normal" textLength="29.5" lengthAdjust="spacingAndGlyphs" stroke="none">0.5457</text>
<text x="989.3" y="444.9" font-size="9.5" fill="#131722" text-anchor="start" font-weight="normal" textLength="29.5" lengthAdjust="spacingAndGlyphs" stroke="none">0.4148</text>
<text x="989.3" y="457.5" font-size="9.5" fill="#fff" text-anchor="start" font-weight="normal" textLength="29.5" lengthAdjust="spacingAndGlyphs" stroke="none">0.4143</text>
<text x="989.3" y="491.2" font-size="9.5" fill="#fff" text-anchor="start" font-weight="normal" textLength="29.5" lengthAdjust="spacingAndGlyphs" stroke="none">0.3256</text>
<text x="989.3" y="504.1" font-size="9.5" fill="#fff" text-anchor="start" font-weight="normal" textLength="29.5" lengthAdjust="spacingAndGlyphs" stroke="none">0.2828</text>
<text x="989.3" y="517.3" font-size="9.5" fill="#fff" text-anchor="start" font-weight="normal" textLength="29.5" lengthAdjust="spacingAndGlyphs" stroke="none">0.2696</text>
<text x="989.3" y="527.0" font-size="9.5" fill="#d6efe9" text-anchor="start" font-weight="normal" textLength="37.5" lengthAdjust="spacingAndGlyphs" stroke="none">15:11:03</text>
<text x="944.8" y="517.3" font-size="9.5" fill="#fff" text-anchor="start" font-weight="normal" textLength="34.5" lengthAdjust="spacingAndGlyphs" stroke="none">FETUSD</text>
</g>
<circle cx="816.8" cy="628.2" r="7.4" fill="#fff" stroke="#9c27b0" stroke-width="1"/>
<g transform="translate(826.3,628.2)">
<circle cx="0" cy="0" r="7.4" fill="#fff" stroke="#f23645" stroke-width="1"/>
<g clip-path="url(#flag)">
<rect x="-7" y="-7" width="14" height="14" fill="#ffffff"/>
<rect x="-7" y="-4.3" width="14" height="1.50" fill="#f44336"/>
<rect x="-7" y="-1.2" width="14" height="2.00" fill="#f44336"/>
<rect x="-7" y="2.8" width="14" height="2.20" fill="#f44336"/>
<rect x="-7" y="-7" width="8.3" height="7.8" fill="#2f7df6"/>
<rect x="-5.60" y="-5.30" width="0.7" height="0.7" fill="#bcd4ff"/><rect x="-5.60" y="-3.70" width="0.7" height="0.7" fill="#bcd4ff"/><rect x="-5.60" y="-2.10" width="0.7" height="0.7" fill="#bcd4ff"/><rect x="-5.60" y="-0.50" width="0.7" height="0.7" fill="#bcd4ff"/><rect x="-3.85" y="-5.30" width="0.7" height="0.7" fill="#bcd4ff"/><rect x="-3.85" y="-3.70" width="0.7" height="0.7" fill="#bcd4ff"/><rect x="-3.85" y="-2.10" width="0.7" height="0.7" fill="#bcd4ff"/><rect x="-3.85" y="-0.50" width="0.7" height="0.7" fill="#bcd4ff"/><rect x="-2.10" y="-5.30" width="0.7" height="0.7" fill="#bcd4ff"/><rect x="-2.10" y="-3.70" width="0.7" height="0.7" fill="#bcd4ff"/><rect x="-2.10" y="-2.10" width="0.7" height="0.7" fill="#bcd4ff"/><rect x="-2.10" y="-0.50" width="0.7" height="0.7" fill="#bcd4ff"/><rect x="-0.35" y="-5.30" width="0.7" height="0.7" fill="#bcd4ff"/><rect x="-0.35" y="-3.70" width="0.7" height="0.7" fill="#bcd4ff"/><rect x="-0.35" y="-2.10" width="0.7" height="0.7" fill="#bcd4ff"/><rect x="-0.35" y="-0.50" width="0.7" height="0.7" fill="#bcd4ff"/>
</g></g>
<g transform="translate(821.7,628.2)">
<circle cx="0" cy="0" r="7.4" fill="#fff" stroke="#f23645" stroke-width="1"/>
<g clip-path="url(#flag)">
<rect x="-7" y="-7" width="14" height="14" fill="#ffffff"/>
<rect x="-7" y="-4.3" width="14" height="1.50" fill="#f44336"/>
<rect x="-7" y="-1.2" width="14" height="2.00" fill="#f44336"/>
<rect x="-7" y="2.8" width="14" height="2.20" fill="#f44336"/>
<rect x="-7" y="-7" width="8.3" height="7.8" fill="#2f7df6"/>
<rect x="-5.60" y="-5.30" width="0.7" height="0.7" fill="#bcd4ff"/><rect x="-5.60" y="-3.70" width="0.7" height="0.7" fill="#bcd4ff"/><rect x="-5.60" y="-2.10" width="0.7" height="0.7" fill="#bcd4ff"/><rect x="-5.60" y="-0.50" width="0.7" height="0.7" fill="#bcd4ff"/><rect x="-3.85" y="-5.30" width="0.7" height="0.7" fill="#bcd4ff"/><rect x="-3.85" y="-3.70" width="0.7" height="0.7" fill="#bcd4ff"/><rect x="-3.85" y="-2.10" width="0.7" height="0.7" fill="#bcd4ff"/><rect x="-3.85" y="-0.50" width="0.7" height="0.7" fill="#bcd4ff"/><rect x="-2.10" y="-5.30" width="0.7" height="0.7" fill="#bcd4ff"/><rect x="-2.10" y="-3.70" width="0.7" height="0.7" fill="#bcd4ff"/><rect x="-2.10" y="-2.10" width="0.7" height="0.7" fill="#bcd4ff"/><rect x="-2.10" y="-0.50" width="0.7" height="0.7" fill="#bcd4ff"/><rect x="-0.35" y="-5.30" width="0.7" height="0.7" fill="#bcd4ff"/><rect x="-0.35" y="-3.70" width="0.7" height="0.7" fill="#bcd4ff"/><rect x="-0.35" y="-2.10" width="0.7" height="0.7" fill="#bcd4ff"/><rect x="-0.35" y="-0.50" width="0.7" height="0.7" fill="#bcd4ff"/>
</g></g>
<g transform="translate(166.4,672.05) scale(0.611)" fill="#131722"><path d="M14 22H7V11H0V4h14v18zM28 22h-8l7.5-18h8L28 22z"/><circle cx="20" cy="8" r="4"/></g>
<g opacity="0.999">
<text x="193.8" y="685.6" font-size="15.2" fill="#131722" text-anchor="start" font-weight="normal" textLength="88.1" lengthAdjust="spacingAndGlyphs" stroke="#131722" stroke-width="0.55">TradingView</text>
</g>
</svg></body></html>
